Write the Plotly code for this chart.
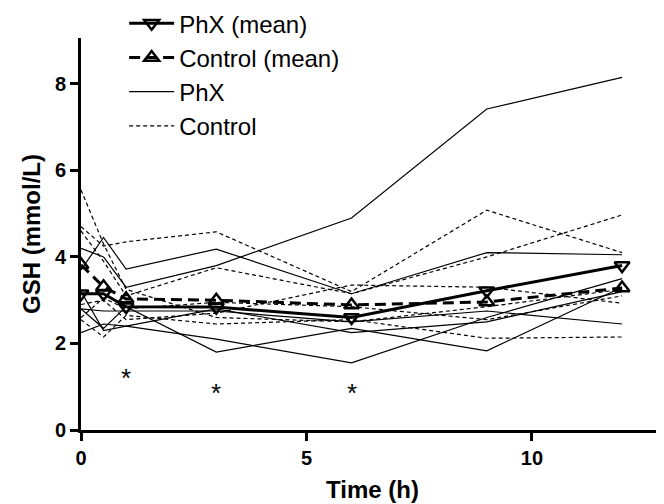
import plotly.graph_objects as go

time_h = [0, 0.5, 1, 3, 6, 9, 12]

phx_mean = [3.15, 3.15, 2.85, 2.84, 2.6, 3.22, 3.8]
control_mean = [3.82, 3.31, 3.03, 3.0, 2.89, 2.96, 3.28]

phx_1 = [4.2, 4.0, 3.3, 3.8, 4.9, 7.42, 8.15]
phx_2 = [3.7, 4.45, 3.72, 4.18, 3.15, 4.1, 4.05]
phx_3 = [2.8, 2.35, 2.85, 1.8, 2.35, 1.83, 3.3]
phx_4 = [2.25, 2.45, 2.4, 2.1, 1.55, 2.6, 3.5]
phx_5 = [2.8, 2.75, 2.75, 2.75, 2.5, 2.75, 2.45]
phx_6 = [3.2, 2.3, 2.4, 2.8, 2.25, 2.5, 3.2]
phx_subjects = [phx_1, phx_2, phx_3, phx_4, phx_5, phx_6]

ctl_1 = [5.55, 4.3, 3.25, 2.6, 2.5, 2.85, 3.25]
ctl_2 = [4.7, 4.25, 4.35, 4.58, 3.2, 5.08, 4.1]
ctl_3 = [4.6, 3.9, 3.1, 3.75, 3.15, 4.0, 4.97]
ctl_4 = [2.55, 2.15, 2.65, 2.45, 2.55, 2.12, 2.15]
ctl_5 = [2.9, 3.0, 2.55, 2.7, 3.35, 3.3, 2.93]
ctl_6 = [2.6, 3.05, 2.8, 2.95, 2.85, 2.55, 3.1]
ctl_subjects = [ctl_1, ctl_2, ctl_3, ctl_4, ctl_5, ctl_6]

star_times = [1, 3, 6]
star_levels = [1.2, 0.85, 0.85]

x_ticks = [0, 5, 10]
y_ticks = [0, 2, 4, 6, 8]

FONT = "Arial, 'Liberation Sans', sans-serif"

fig = go.Figure()

for i, ys in enumerate(phx_subjects):
    fig.add_trace(go.Scatter(
        x=time_h, y=ys, mode="lines", name="PhX",
        line=dict(color="black", width=1.2),
        showlegend=(i == 0), legendgroup="g3", legendrank=3,
        hoverinfo="skip"))

for i, ys in enumerate(ctl_subjects):
    fig.add_trace(go.Scatter(
        x=time_h, y=ys, mode="lines", name="Control",
        line=dict(color="black", width=1.2, dash="4px,3px"),
        showlegend=(i == 0), legendgroup="g4", legendrank=4,
        hoverinfo="skip"))

fig.add_trace(go.Scatter(
    x=time_h, y=control_mean, mode="lines+markers", name="Control (mean)",
    line=dict(color="black", width=3, dash="11px,6px"),
    marker=dict(symbol="triangle-up-open", size=13, color="black",
                line=dict(width=2.5, color="black")),
    legendgroup="g2", legendrank=2))

fig.add_trace(go.Scatter(
    x=time_h, y=phx_mean, mode="lines+markers", name="PhX (mean)",
    line=dict(color="black", width=3),
    marker=dict(symbol="triangle-down-open", size=13, color="black",
                line=dict(width=2.5, color="black")),
    legendgroup="g1", legendrank=1))

for t, lvl in zip(star_times, star_levels):
    fig.add_annotation(x=t, y=lvl, text="*", showarrow=False,
                       font=dict(family=FONT, size=26, color="black"))

fig.update_layout(
    width=656, height=496,
    margin=dict(l=73, r=0, t=30, b=74, autoexpand=False),
    paper_bgcolor="white", plot_bgcolor="white",
    font=dict(family=FONT, color="black"),
    legend=dict(
        x=0.074, y=1.094, xanchor="left", yanchor="top",
        traceorder="grouped", tracegroupgap=0,
        itemwidth=45,
        font=dict(family=FONT, size=24, color="black"),
        bgcolor="rgba(0,0,0,0)"),
    xaxis=dict(
        range=[0, 12.93], tickvals=x_ticks, ticks="outside", ticklen=8,
        tickwidth=2.5, tickcolor="black", showline=True, linewidth=3,
        linecolor="black", showgrid=False, zeroline=False, automargin=False,
        tickfont=dict(family=FONT, size=20, color="black", weight="bold"),
        title=dict(text="Time (h)", standoff=14,
                   font=dict(family=FONT, size=24, color="black", weight="bold"))),
    yaxis=dict(
        range=[0, 9.06], tickvals=y_ticks, ticks="outside", ticklen=8,
        tickwidth=2.5, tickcolor="black", showline=True, linewidth=3,
        linecolor="black", showgrid=False, zeroline=False, automargin=False,
        tickfont=dict(family=FONT, size=20, color="black", weight="bold"),
        title=dict(text="GSH (mmol/L)", standoff=8,
                   font=dict(family=FONT, size=24, color="black", weight="bold"))),
)

fig.write_html("out.html")
